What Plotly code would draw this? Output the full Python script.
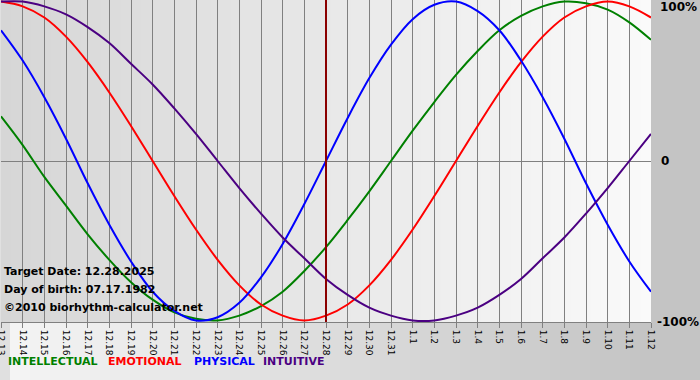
import plotly.graph_objects as go

# ---- data ----
labels = ["12.13", "12.14", "12.15", "12.16", "12.17", "12.18", "12.19", "12.20",
          "12.21", "12.22", "12.23", "12.24", "12.25", "12.26", "12.27", "12.28",
          "12.29", "12.30", "12.31", "1.1", "1.2", "1.3", "1.4", "1.5", "1.6",
          "1.7", "1.8", "1.9", "1.10", "1.11", "1.12"]
target_label = "12.28"

intellectual = [0.28, 0.10, -0.10, -0.28, -0.46, -0.62, -0.76, -0.87, -0.95, -0.99,
                -1.00, -0.97, -0.91, -0.82, -0.69, -0.54, -0.37, -0.19, 0.00, 0.19,
                0.37, 0.54, 0.69, 0.82, 0.91, 0.97, 1.00, 0.99, 0.95, 0.87, 0.76]
emotional = [1.00, 0.97, 0.90, 0.78, 0.62, 0.43, 0.22, 0.00, -0.22, -0.43,
             -0.62, -0.78, -0.90, -0.97, -1.00, -0.97, -0.90, -0.78, -0.62, -0.43,
             -0.22, 0.00, 0.22, 0.43, 0.62, 0.78, 0.90, 0.97, 1.00, 0.97, 0.90]
physical = [0.82, 0.63, 0.40, 0.14, -0.14, -0.40, -0.63, -0.82, -0.94, -1.00,
            -0.98, -0.89, -0.73, -0.52, -0.27, 0.00, 0.27, 0.52, 0.73, 0.89,
            0.98, 1.00, 0.94, 0.82, 0.63, 0.40, 0.14, -0.14, -0.40, -0.63, -0.82]
intuitive = [1.00, 1.00, 0.97, 0.92, 0.84, 0.74, 0.61, 0.48, 0.33, 0.17,
             0.00, -0.17, -0.33, -0.48, -0.61, -0.74, -0.84, -0.92, -0.97, -1.00,
             -1.00, -0.97, -0.92, -0.84, -0.74, -0.61, -0.48, -0.33, -0.17, 0.00, 0.17]

series_names = ["INTELLECTUAL", "EMOTIONAL", "PHYSICAL", "INTUITIVE"]
series_values = [intellectual, emotional, physical, intuitive]
series_colors = ["#008000", "#ff0000", "#0000ff", "#4b0082"]
y_labels = ["100%", "0", "-100%"]
info_lines = ["Target Date: 12.28.2025", "Day of birth: 07.17.1982",
              "\u00a92010 biorhythm-calculator.net"]

# ---- layout geometry ----
W, H = 700, 380
L, R, T, B = 1, 49, 0, 58
PW, PH = W - L - R, H - T - B


def px(x):
    return (x - L) / PW


def py(y):
    return (H - B - y) / PH


def grey(v):
    v = int(round(v))
    return f"rgb({v},{v},{v})"


shapes = []
# outer background gradient (light left -> grey right)
for i in range(71):
    x0 = i * 10
    t = min(x0 + 5, 651) / 651
    shapes.append(dict(type="rect", xref="paper", yref="paper",
                       x0=px(x0), x1=px(x0 + 11), y0=py(H), y1=py(0),
                       fillcolor=grey(245 - 49 * t), line=dict(width=0),
                       layer="below"))
# plot area gradient (grey left -> white right)
n = 65
for i in range(n):
    t = (i + 0.5) / n
    x1 = min((i + 1.1) / n, 1.0)
    shapes.append(dict(type="rect", xref="paper", yref="paper",
                       x0=i / n, x1=x1, y0=0, y1=1,
                       fillcolor=grey(214 + 36 * t), line=dict(width=0),
                       layer="below"))

fig = go.Figure()
# target date line
ti = labels.index(target_label)
fig.add_shape(type="line", xref="x", yref="paper", x0=ti, x1=ti, y0=0, y1=1,
              line=dict(color="#8b0000", width=2), layer="above")

for name, vals, col in zip(series_names, series_values, series_colors):
    fig.add_trace(go.Scatter(x=labels, y=vals, mode="lines", name=name,
                             line=dict(color=col, width=2, shape="spline", smoothing=1),
                             hoverinfo="skip", showlegend=False))

annotations = []
# right-hand percentage labels
for text, ypix, xpix in zip(y_labels, [7, 161, 322], [658, 659, 655]):
    annotations.append(dict(text=f"<b>{text}</b>", xref="paper", yref="paper",
                            x=px(xpix), y=py(ypix), xanchor="left", yanchor="middle",
                            showarrow=False,
                            font=dict(family="DejaVu Sans", size=12, color="#000")))
# info text
for text, ypix in zip(info_lines, [271, 289, 307]):
    annotations.append(dict(text=f"<b>{text}</b>", xref="paper", yref="paper",
                            x=px(2), y=py(ypix), xanchor="left", yanchor="middle",
                            showarrow=False,
                            font=dict(family="DejaVu Sans", size=11, color="#000")))
# coloured legend text
for name, col, xpix in zip(series_names, series_colors, [6, 106, 192, 261]):
    annotations.append(dict(text=f"<b>{name}</b>", xref="paper", yref="paper",
                            x=px(xpix), y=py(361), xanchor="left", yanchor="middle",
                            showarrow=False,
                            font=dict(family="DejaVu Sans", size=11, color=col)))

fig.update_layout(
    width=W, height=H,
    margin=dict(l=L, r=R, t=T, b=B, pad=0, autoexpand=False),
    paper_bgcolor="#e0e0e0",
    plot_bgcolor="rgba(0,0,0,0)",
    shapes=shapes + list(fig.layout.shapes),
    annotations=annotations,
    showlegend=False,
    xaxis=dict(type="category", range=[0, len(labels) - 1], automargin=False,
               showgrid=True, gridcolor="#808080", gridwidth=1,
               showline=True, linecolor="#808080", linewidth=1,
               ticks="outside", ticklen=5, tickcolor="#808080",
               tickangle=90, tickfont=dict(family="DejaVu Sans", size=9, color="#000"),
               zeroline=False, fixedrange=True),
    yaxis=dict(range=[-1.01, 1.01], showgrid=False, showticklabels=False,
               automargin=False,
               zeroline=True, zerolinecolor="#808080", zerolinewidth=1,
               ticks="", fixedrange=True),
)

fig.write_html(
    "out.html",
    config={"displayModeBar": False},
    post_script="document.body.style.margin='0';document.body.style.overflow='hidden';",
)
